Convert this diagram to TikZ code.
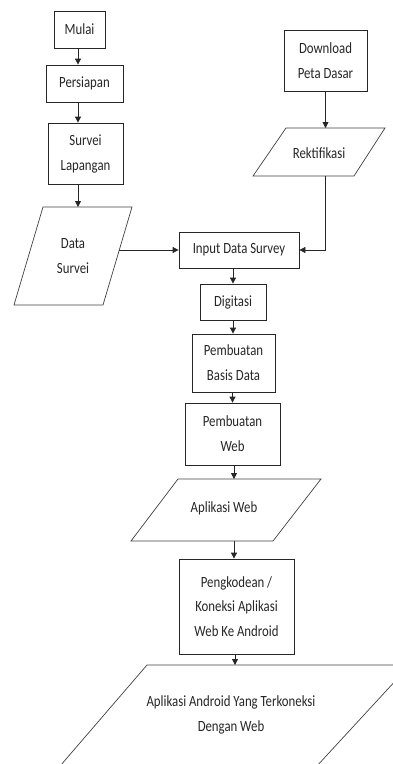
\documentclass[tikz,border=0pt]{standalone}
\usepackage{fontspec}
\setmainfont{Carlito}[FakeStretch=0.82]
\usetikzlibrary{arrows.meta}
\begin{document}
\begin{tikzpicture}[x=1pt,y=-1pt,
  box/.style={draw=black!85, line width=0.8pt, align=center, inner sep=0pt,
    font=\fontsize{15.6}{25}\selectfont, text=black!85},
  lbl/.style={align=center, inner sep=0pt, font=\fontsize{15.6}{25}\selectfont, text=black!85},
  para/.style={draw=black!75, line width=0.7pt},
  arr/.style={draw=black!85, line width=0.8pt, -{Triangle[length=6pt,width=6pt]}}]
\useasboundingbox (0,0) rectangle (393,764);
\clip (0,0) rectangle (393,764);

% rectangles
\node[box, minimum width=51pt, minimum height=37pt] (mulai) at (79.5,29.5) {Mulai};
\node[box, minimum width=77pt, minimum height=37pt] (persiapan) at (84.5,83.5) {Persiapan};
\node[box, minimum width=75pt, minimum height=61pt] (survei) at (85.5,153.5) {Survei\\Lapangan};
\node[box, minimum width=83pt, minimum height=61pt] (download) at (325.5,60.5) {Download\\Peta Dasar};
\node[box, minimum width=120pt, minimum height=36pt] (input) at (239,250) {Input Data Survey};
\node[box, minimum width=66pt, minimum height=36pt] (digitasi) at (233,302) {Digitasi};
\node[box, minimum width=83pt, minimum height=58pt] (basis) at (233.5,363) {Pembuatan\\Basis Data};
\node[box, minimum width=95pt, minimum height=62pt] (web) at (232.5,434) {Pembuatan\\Web};
\node[box, minimum width=115pt, minimum height=95pt] (peng) at (236.5,606.5) {Pengkodean /\\[-0.5pt]Koneksi Aplikasi\\[-0.5pt]Web Ke Android};

% parallelograms
\draw[para] (43,207) -- (132,207) -- (103,305) -- (14,305) -- cycle;
\node[lbl] (ds) at (73,256) {Data\\Survei};
\coordinate (dsin) at (78,207);
\coordinate (dsout) at (119,250);

\draw[para] (286,128) -- (385,128) -- (354,176) -- (253,176) -- cycle;
\node[lbl] (rekt) at (319,153) {Rektifikasi};
\coordinate (rektin) at (325.5,128);
\coordinate (rektout) at (325.5,176);

\draw[para] (178,479) -- (321,479) -- (273,541) -- (131,541) -- cycle;
\node[lbl] (apweb) at (224,508) {Aplikasi Web};
\coordinate (apin) at (234,479);
\coordinate (apout) at (234,541);

\draw[para] (147,665) -- (410,665) -- (304,780) -- (48,780) -- cycle;
\node[lbl] (android) at (231,715) {Aplikasi Android Yang Terkoneksi\\Dengan Web};
\coordinate (anin) at (235,665);

% connectors
\draw[arr] ([xshift=-1.5pt]mulai.south) -- ([xshift=-6.5pt]persiapan.north);
\draw[arr] ([xshift=-6.5pt]persiapan.south) -- ([xshift=-7.5pt]survei.north);
\draw[arr] ([xshift=-7.5pt]survei.south) -- (dsin);
\draw[arr] (dsout) -- (input.west);
\draw[arr] (download.south) -- (rektin);
\draw[arr] (rektout) |- (input.east);
\draw[arr] (input.south -| digitasi.north) -- (digitasi.north);
\draw[arr] (digitasi.south) -- (digitasi.south |- basis.north);
\draw[arr] (web.north |- basis.south) -- (web.north);
\draw[arr] (apin |- web.south) -- (apin);
\draw[arr] (apout) -- (apout |- peng.north);
\draw[arr] (anin |- peng.south) -- (anin);
\end{tikzpicture}
\end{document}
